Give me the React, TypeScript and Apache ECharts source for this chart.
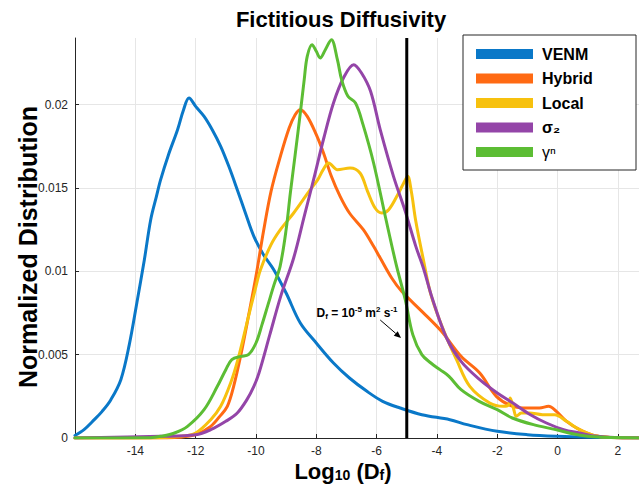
import React, { useEffect, useRef } from "react";
import * as echarts from "echarts";

const FONT = "'Liberation Sans', Arial, Helvetica, sans-serif";

const seriesNames = ["VENM", "Hybrid", "Local", "σ₂", "γⁿ"];
const seriesColors = ["#0a78c8", "#ff6a13", "#f7c10e", "#9445a8", "#5cbd34"];

const venm = [
  [-16, 0.00015], [-15.7, 0.0005], [-15.36, 0.0011], [-15.1, 0.0016], [-14.81, 0.0023],
  [-14.48, 0.0035], [-14.2, 0.0056], [-13.95, 0.0081], [-13.7, 0.0107], [-13.49, 0.0131],
  [-13.3, 0.0145], [-13.16, 0.0155], [-12.9, 0.017], [-12.6, 0.0185], [-12.4, 0.0197],
  [-12.22, 0.0204], [-12.0, 0.0199], [-11.72, 0.0193], [-11.45, 0.0185], [-11.17, 0.0175],
  [-10.9, 0.0163], [-10.62, 0.0149], [-10.35, 0.0135], [-10.07, 0.0121], [-9.75, 0.011],
  [-9.41, 0.0101], [-9.0, 0.0087], [-8.53, 0.0069], [-8.0, 0.0057], [-7.43, 0.0045],
  [-6.9, 0.0036], [-6.32, 0.0028], [-5.8, 0.0022], [-5.22, 0.0018], [-4.5, 0.0014],
  [-3.57, 0.0011], [-3.0, 0.0008], [-2.0, 0.0004], [-1.0, 0.0002], [0, 0.0001],
  [1, 0.00005], [2.7, 0.00002],
];

const hybrid = [
  [-16, 0], [-13.5, 0], [-12.5, 0.00005], [-12, 0.0002], [-11.5, 0.0007], [-11.2, 0.0013],
  [-10.95, 0.0019], [-10.74, 0.0031], [-10.5, 0.005], [-10.25, 0.0073], [-10.0, 0.0097],
  [-9.75, 0.0124], [-9.5, 0.0148], [-9.19, 0.0169], [-8.9, 0.0186], [-8.7, 0.0194],
  [-8.53, 0.0197], [-8.3, 0.0193], [-8.0, 0.0182], [-7.76, 0.0171], [-7.5, 0.0157],
  [-7.21, 0.0145], [-6.9, 0.0135], [-6.44, 0.0125], [-6.1, 0.0115], [-5.88, 0.0108],
  [-5.5, 0.0096], [-5.17, 0.0088], [-4.5, 0.0076], [-3.85, 0.0064], [-3.2, 0.0049],
  [-2.58, 0.0039], [-2.03, 0.0025], [-1.48, 0.0019], [-1.0, 0.0018], [-0.6, 0.0018],
  [-0.3, 0.0019], [-0.04, 0.0016], [0.3, 0.001], [0.73, 0.0005], [1.2, 0.00015],
  [1.8, 0.00003], [2.7, 0],
];

const local = [
  [-16, 0], [-13.5, 0], [-12.5, 0.0001], [-12, 0.0003], [-11.5, 0.0011], [-11.17, 0.0019],
  [-10.84, 0.0033], [-10.6, 0.0047], [-10.3, 0.0069], [-10.0, 0.0091], [-9.85, 0.0101],
  [-9.5, 0.0116], [-9.19, 0.0125], [-8.75, 0.0135], [-8.2, 0.0149], [-7.95, 0.0155],
  [-7.77, 0.0161], [-7.59, 0.0165], [-7.3, 0.0161], [-6.88, 0.0162], [-6.55, 0.0159],
  [-6.3, 0.0148], [-6.05, 0.0138], [-5.83, 0.0135], [-5.6, 0.0137], [-5.3, 0.0146],
  [-5.1, 0.0153], [-4.97, 0.0157], [-4.85, 0.0148], [-4.7, 0.013], [-4.45, 0.0107],
  [-4.2, 0.0086], [-3.79, 0.0065], [-3.35, 0.0047], [-2.91, 0.0031], [-2.25, 0.0021],
  [-1.81, 0.0019], [-1.62, 0.002], [-1.57, 0.0024], [-1.45, 0.0017], [-1.37, 0.0013],
  [-1.2, 0.0015], [-0.93, 0.0015], [-0.5, 0.0014], [-0.1, 0.0014], [0.3, 0.001],
  [0.73, 0.0005], [1.2, 0.00015], [1.8, 0.00003], [2.7, 0],
];

const sigma2 = [
  [-16, 0], [-13.16, 0.0001], [-12, 0.0002], [-11.5, 0.0005], [-11.0, 0.001], [-10.62, 0.0015],
  [-10.3, 0.0023], [-10.07, 0.0031], [-9.9, 0.0039], [-9.54, 0.0062], [-9.18, 0.0085],
  [-8.75, 0.0108], [-8.4, 0.0133], [-8.09, 0.0155], [-7.75, 0.018], [-7.43, 0.0201],
  [-7.1, 0.0216], [-6.76, 0.0224], [-6.5, 0.0219], [-6.2, 0.0208], [-5.88, 0.0185],
  [-5.44, 0.0157], [-5.05, 0.0136], [-4.7, 0.0115], [-4.45, 0.0102], [-4.14, 0.0083],
  [-3.68, 0.006], [-3.2, 0.0046], [-2.58, 0.0035], [-2.0, 0.0027], [-1.48, 0.0021],
  [-0.9, 0.0014], [-0.37, 0.0009], [0.2, 0.0005], [0.73, 0.0003], [1.3, 0.0001],
  [2, 0.00002], [2.7, 0],
];

const gammaN = [
  [-16, 0], [-13.5, 0.00002], [-13.16, 0.0001], [-12.7, 0.0003], [-12.27, 0.0007],
  [-11.72, 0.0017], [-11.28, 0.0031], [-11.0, 0.0041], [-10.8, 0.0047], [-10.5, 0.0049],
  [-10.25, 0.005], [-10.0, 0.0057], [-9.8, 0.0068], [-9.6, 0.008], [-9.4, 0.0092],
  [-9.2, 0.0103], [-9.0, 0.0125], [-8.86, 0.0147], [-8.7, 0.017], [-8.53, 0.0195],
  [-8.4, 0.0215], [-8.3, 0.0229], [-8.14, 0.0236], [-8.0, 0.0232], [-7.87, 0.0228],
  [-7.7, 0.0233], [-7.5, 0.0239], [-7.3, 0.0227], [-7.16, 0.0215], [-6.95, 0.0205],
  [-6.7, 0.0201], [-6.45, 0.0188], [-6.1, 0.0165], [-5.7, 0.0132], [-5.35, 0.0104],
  [-5.05, 0.0083], [-4.8, 0.0062], [-4.5, 0.005], [-4.2, 0.0045], [-3.9, 0.0041],
  [-3.6, 0.0037], [-3.2, 0.0029], [-2.6, 0.0022], [-2.0, 0.0017], [-1.5, 0.0012],
  [-0.8, 0.0008], [0, 0.00048], [0.5, 0.00025], [1, 0.0001], [1.5, 0.00004], [2.7, 0],
];

const allSeries = [venm, hybrid, local, sigma2, gammaN];

const xMin = -16;
const xMax = 2.7;
const xInterval = 2;
const yMin = 0;
const yMax = 0.024;
const yInterval = 0.005;
const thresholdX = -5;
const arrowFrom = [-5.88, 0.00708];
const arrowTo = [-5.19, 0.006];
const annotationAt = [-6.65, 0.0075];

const titleText = "Fictitious Diffusivity";
const yAxisTitle = "Normalized Distribution";

export default function App() {
  const ref = useRef<HTMLDivElement>(null);

  useEffect(() => {
    if (!ref.current) return;
    const chart = echarts.init(ref.current, null, { renderer: "svg" });
    const tickColor = "#262626";

    const lineSeries: any[] = allSeries.map((d, i) => ({
      name: seriesNames[i],
      type: "line",
      data: d,
      showSymbol: false,
      smooth: 0.35,
      lineStyle: { width: 3, color: seriesColors[i], join: "round", cap: "round" },
      itemStyle: { color: seriesColors[i] },
      z: 3,
    }));
    lineSeries.push({
      name: "threshold",
      type: "line",
      data: [
        [thresholdX, yMin],
        [thresholdX, yMax],
      ],
      showSymbol: false,
      lineStyle: { width: 3, color: "#000" },
      itemStyle: { color: "#000" },
      z: 4,
    });

    chart.setOption({
      animation: false,
      backgroundColor: "#fff",
      grid: { left: 75, right: 0, top: 38, bottom: 47 },
      xAxis: {
        type: "value",
        min: xMin,
        max: xMax,
        interval: xInterval,
        axisLine: { show: true, onZero: false, lineStyle: { color: tickColor, width: 1 } },
        axisTick: { show: true, inside: true, length: 4, lineStyle: { color: tickColor } },
        axisLabel: {
          showMinLabel: false,
          showMaxLabel: false,
          color: tickColor,
          fontSize: 12,
          fontFamily: FONT,
          margin: 7,
        },
        splitLine: { show: true, showMinLine: false, showMaxLine: false, lineStyle: { color: "#e6e6e6", width: 1 } },
      },
      yAxis: {
        type: "value",
        min: yMin,
        max: yMax,
        interval: yInterval,
        axisLine: { show: true, onZero: false, lineStyle: { color: tickColor, width: 1 } },
        axisTick: { show: true, inside: true, length: 4, lineStyle: { color: tickColor } },
        axisLabel: {
          showMaxLabel: false,
          color: tickColor,
          fontSize: 12,
          fontFamily: FONT,
          margin: 7,
          formatter: (v: number) => String(+v.toFixed(3)),
        },
        splitLine: { show: true, showMinLine: false, showMaxLine: false, lineStyle: { color: "#e6e6e6", width: 1 } },
      },
      legend: {
        data: seriesNames,
        orient: "vertical",
        left: 476,
        top: 46,
        padding: 0,
        itemWidth: 57,
        itemHeight: 10,
        itemGap: 8.5,
        icon: "rect",
        z: 6,
        formatter: (name: string) => (name === "γⁿ" ? "{n|" + name + "}" : name),
        textStyle: {
          fontSize: 16,
          fontWeight: "bold",
          fontFamily: FONT,
          color: "#000",
          lineHeight: 16,
          padding: [0, 0, 0, 4],
          rich: {
            n: { fontSize: 16, fontWeight: "normal", fontFamily: FONT, color: "#000", lineHeight: 16 },
          },
        },
      },
      series: lineSeries,
    });

    const p = (pt: number[]) => chart.convertToPixel({ gridIndex: 0 }, pt) as number[];
    const a0 = p(arrowFrom);
    const a1 = p(arrowTo);
    const ang = Math.atan2(a1[1] - a0[1], a1[0] - a0[0]);
    const hl = 7;
    const hw = 3;
    const bx = a1[0] - hl * Math.cos(ang);
    const by = a1[1] - hl * Math.sin(ang);
    const head = [
      [a1[0], a1[1]],
      [bx + hw * Math.sin(ang), by - hw * Math.cos(ang)],
      [bx - hw * Math.sin(ang), by + hw * Math.cos(ang)],
    ];
    const ann = p(annotationAt);

    chart.setOption({
      graphic: [
        {
          type: "rect",
          z: 5,
          shape: { x: 463, y: 35, width: 173, height: 135 },
          style: { fill: "#fff", stroke: tickColor, lineWidth: 1 },
        },
        {
          type: "text",
          z: 10,
          x: 341,
          y: 19,
          style: {
            text: titleText,
            font: `bold 22px ${FONT}`,
            fill: "#000",
            textAlign: "center",
            textVerticalAlign: "middle",
          },
        },
        {
          type: "text",
          z: 10,
          x: 28,
          y: 247,
          rotation: Math.PI / 2,
          style: {
            text: yAxisTitle,
            font: `bold 25px ${FONT}`,
            fill: "#000",
            textAlign: "center",
            textVerticalAlign: "middle",
          },
        },
        {
          type: "text",
          z: 10,
          x: 343,
          y: 471,
          style: {
            text: "{a|Log}{s|10}{a| (D}{s|f}{a|)}",
            textAlign: "center",
            textVerticalAlign: "middle",
            fill: "#000",
            rich: {
              a: { fontSize: 22, fontWeight: "bold", fontFamily: FONT, lineHeight: 22, fill: "#000" },
              s: { fontSize: 14, fontWeight: "bold", fontFamily: FONT, verticalAlign: "bottom", lineHeight: 14, fill: "#000" },
            },
          },
        },
        {
          type: "text",
          z: 10,
          x: ann[0],
          y: ann[1],
          style: {
            text: "{b|D}{sb|f}{b| = 10}{sp|-5}{b| m}{sp|2}{b| s}{sp|-1}",
            textAlign: "center",
            textVerticalAlign: "middle",
            fill: "#000",
            rich: {
              b: { fontSize: 12, fontWeight: "bold", fontFamily: FONT, lineHeight: 15, fill: "#000" },
              sb: { fontSize: 8, fontWeight: "bold", fontFamily: FONT, verticalAlign: "bottom", lineHeight: 9, fill: "#000" },
              sp: { fontSize: 8, fontWeight: "bold", fontFamily: FONT, verticalAlign: "top", lineHeight: 9, fill: "#000" },
            },
          },
        },
        {
          type: "line",
          z: 10,
          shape: { x1: a0[0], y1: a0[1], x2: bx, y2: by },
          style: { stroke: "#000", lineWidth: 1 },
        },
        {
          type: "polygon",
          z: 10,
          shape: { points: head },
          style: { fill: "#000" },
        },
      ],
    });

    return () => chart.dispose();
  }, []);

  return (
    <div
      ref={ref}
      style={{ position: "fixed", left: 0, top: 0, width: 639, height: 485 }}
    />
  );
}
